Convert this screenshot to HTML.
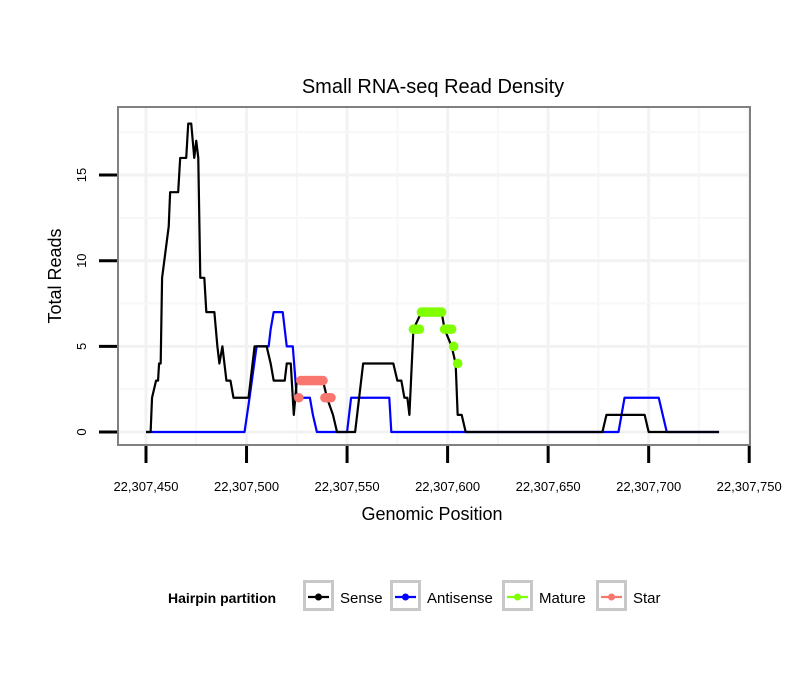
<!DOCTYPE html>
<html><head><meta charset="utf-8"><style>
body{margin:0;background:#fff;}
svg text{font-family:"Liberation Sans",sans-serif;}
</style></head><body>
<svg id="chart" width="810" height="690" xmlns="http://www.w3.org/2000/svg">
<rect x="0" y="0" width="810" height="690" fill="#fff"/>
<text x="433" y="93" font-size="20" text-anchor="middle">Small RNA-seq Read Density</text>
<g id="grid"></g>
<g id="series"></g>
<rect x="118" y="107" width="632" height="338" fill="none" stroke="#808080" stroke-width="2"/>
<g id="axes"></g>
<text x="432" y="520" font-size="18" text-anchor="middle">Genomic Position</text>
<text x="61" y="276" font-size="18" text-anchor="middle" transform="rotate(-90 61 276)">Total Reads</text>
<g>
<text x="168" y="603" font-size="14" font-weight="bold">Hairpin partition</text>
<g id="legend-items"></g>
</g>
</svg>
<script>
const BASE = 22307450;
const xTicks = [0, 50, 100, 150, 200, 250, 300];
const xTickLabels = ["22,307,450","22,307,500","22,307,550","22,307,600","22,307,650","22,307,700","22,307,750"];
const yTicks = [0, 5, 10, 15];
const yTickLabels = ["0","5","10","15"];
// position offsets (from 22,307,450) and read counts
const senseX = [0,2.3,3,5,6,6.5,7.3,8,11.3,12, 16,17,20,21,22.5,24,25,26,27,29, 30,34,35.5,36.5,38,40,42,43.5,51,54, 60,62,63.5,69,70,72,73.5,75,88,90, 93,95,99.5,104,108,123,125,127,128.5,130, 131,133,137,147,148.5,152,154,155,157,159, 227,229,248,250,285];
const senseY = [0,0,2,3,3,4,4,9,12,14, 14,16,16,18,18,16,17,16,9,9, 7,7,5,4,5,3,3,2,2,5, 5,4,3,3,4,4,1,3,3,2, 1,0,0,0,4,4,3,3,2,2, 1,6,7,7,6,5,4,1,1,0, 0,1,1,0,0];
const antiX = [0,49,51.5,55,61,62,63.5,68,70,73,75,81.5,83,85,99,100,102,121,122,235,238,255,259,285];
const antiY = [0,0,2,5,5,6,7,7,5,5,2,2,1,0,0,0,2,2,0,0,2,2,0,0];
const matureX = [133,134,135,136,137,138,139,140,141,142,143,144,145,146,147,148.5,150,151,152,153,155];
const matureY = [6,6,6,6,7,7,7,7,7,7,7,7,7,7,7,6,6,6,6,5,4];
const starX = [76,77,78,79,80,81,82,83,84,85,86,87,88,89,90,91,92];
const starY = [2,3,3,3,3,3,3,3,3,3,3,3,3,2,2,2,2];

const NS="http://www.w3.org/2000/svg";
const sx = v => 146 + v*2.0107;
const sy = v => 432 - v*17.13;
function mk(tag, attrs, parent){const e=document.createElementNS(NS,tag);for(const k in attrs)e.setAttribute(k,attrs[k]);parent.appendChild(e);return e;}
const grid=document.getElementById('grid'), axes=document.getElementById('axes'), series=document.getElementById('series');
for(let i=0;i<xTicks.length;i++){
  const l=mk('line',{x1:sx(xTicks[i]),x2:sx(xTicks[i]),y1:108,y2:444,stroke:'#f2f2f2','stroke-width':3},grid);
  
  
  if(i<xTicks.length-1){const m=mk('line',{x1:sx(xTicks[i]+25),x2:sx(xTicks[i]+25),y1:108,y2:444,stroke:'#f7f7f7','stroke-width':2},grid);
  
  }
}
for(let i=0;i<yTicks.length;i++){
  const l=mk('line',{x1:119,x2:749,y1:sy(yTicks[i]),y2:sy(yTicks[i]),stroke:'#f2f2f2','stroke-width':3},grid);
  
  
  const m=mk('line',{x1:119,x2:749,y1:sy(yTicks[i]+2.5),y2:sy(yTicks[i]+2.5),stroke:'#f7f7f7','stroke-width':2},grid);
  
  
}
for(let i=0;i<xTicks.length;i++){
  const t=mk('line',{x1:sx(xTicks[i]),x2:sx(xTicks[i]),y1:446,y2:463,stroke:'#000','stroke-width':3},axes);
  
  
  const tx=mk('text',{x:sx(xTicks[i]),y:491,'font-size':13,'text-anchor':'middle'},axes);
  tx.textContent=xTickLabels[i];
  
  
}
for(let i=0;i<yTicks.length;i++){
  const y=sy(yTicks[i]);
  const t=mk('line',{x1:99,x2:117,y1:y,y2:y,stroke:'#000','stroke-width':3},axes);
  
  
  const tx=mk('text',{x:86,y:y,'font-size':13,'text-anchor':'middle',transform:`rotate(-90 86 ${y})`},axes);
  tx.textContent=yTickLabels[i];
  
  
}
function line(xs,ys,color,name){
  const p=mk('polyline',{points:xs.map((x,i)=>sx(x)+','+sy(ys[i])).join(' '),fill:'none',stroke:color,'stroke-width':2.2,'stroke-linejoin':'round'},series);
  
  
}
function pts(xs,ys,color,name){
  for(let i=0;i<xs.length;i++){
    const c=mk('circle',{cx:sx(xs[i]),cy:sy(ys[i]),r:4.8,fill:color},series);
    
    
  }
}
line(antiX,antiY,'#0000ff','antisense-line');
line(senseX,senseY,'#000','sense-line');
pts(starX,starY,'#f8766d','star-point');
pts(matureX,matureY,'#7fff00','mature-point');
const li=document.getElementById('legend-items');
const legendNames=['Sense','Antisense','Mature','Star'];
const legendColors=['#000','#0000ff','#7fff00','#f8766d'];
const boxX=[303,390,502,596];
for(let i=0;i<4;i++){
  const g=mk('g',{},li);
  
  
  mk('rect',{x:boxX[i]+1.5,y:581.5,width:28,height:28,fill:'#fff',stroke:'#c8c8c8','stroke-width':3},g);
  mk('line',{x1:boxX[i]+5,x2:boxX[i]+26,y1:597,y2:597,stroke:legendColors[i],'stroke-width':2.2},g);
  mk('circle',{cx:boxX[i]+15.5,cy:597,r:3.5,fill:legendColors[i]},g);
  const t=mk('text',{x:boxX[i]+37,y:603,'font-size':15},g);
  t.textContent=legendNames[i];
}
</script>
</body></html>
